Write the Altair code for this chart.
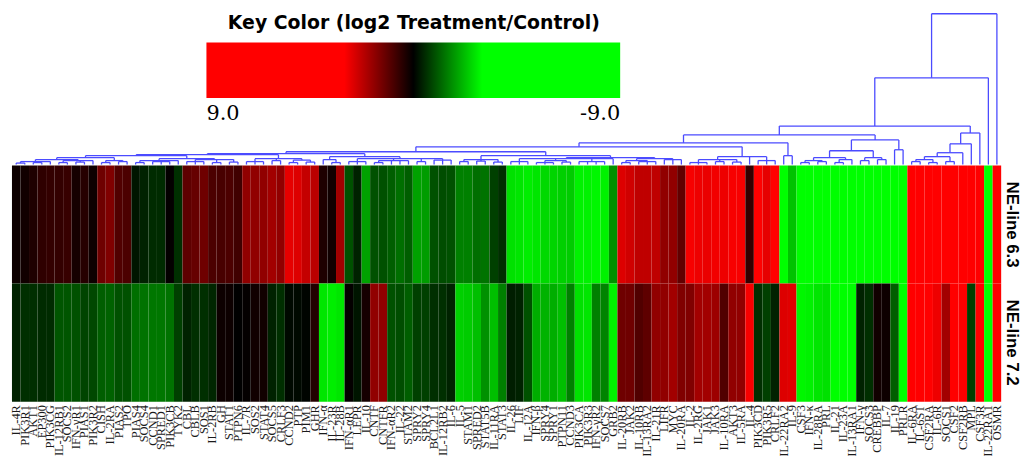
import altair as alt
import pandas as pd

GENES = ["IL-4R", "PIK3R1", "AKT1", "EP300", "PIK3CG", "IL-12RB1", "SOCS2", "IFN-γR1", "PIAS1", "PIK3R2",
         "CISH", "IL-2RA", "PIAS2", "TPO", "PIAS4", "SOCS4", "CCND1", "SPRED1", "PIK3CB", "TYK2",
         "CBL", "CBLB", "SOS1", "IL-2RB", "GH", "STAT1", "PTPN6", "IL-7R", "SOS2", "STAT4",
         "SOCS5", "CRLF3", "CCND2", "PTP", "PIM1", "GHR", "IFN-α", "IL-23R", "IL-28B", "IFN-αR1",
         "LEPR", "IL-10", "CNTF", "CNTFR", "IFN-αR2", "IL-22", "STAM2", "SPRY2", "SPRY4", "BCL2L1",
         "IL-12RB2", "IL-6", "IL-5", "STAM1", "SPRED2", "STAT5B", "IL-11RA", "STAT3", "IL-26", "LIF",
         "IL-12A", "IFN-β", "SPRY4\u200b", "SPRY1", "PTPN11", "CCND3", "PIK3CA", "PIK3R3", "IFN-γR2", "SOCS7",
         "GRB2", "IL-20RB", "JAK2", "IL-10RB", "IL-13RA2", "IL-21R", "LIFR", "MYC", "IL-20RA", "IL-2",
         "IL-2RG", "JAK1", "JAK3", "IL-10RA", "AKT3", "IL-5RA", "IL-4", "PIK3CD", "PIK3R5", "CRLF2",
         "IL-22RA2", "IL-9", "CSF3", "IFN-κ", "IL-28RA", "PRL", "IL-21", "IL-23A", "IL-13RA1", "IFN-γ",
         "SOCS3", "CREBBP", "IL-7", "IL-19", "PRLR", "IL-6RA", "IL-6ST", "CSF2RA", "IL-6R", "SOCS1",
         "CSF2", "CSF2RB", "MPL", "CSF3R", "IL-22RA1", "OSMR"]

ROWS = ["NE-line 6.3", "NE-line 7.2"]

# log2 treatment/control, row "NE-line 6.3"
LINE_63 = [0.15, 0.2, 0.35, 0.55, 0.6, 0.6, 0.65, 0.25, 0.45, 0.15,
           1.3, 1.5, 0.95, 0.9, -0.25, -0.4, -0.5, -0.5, 0.05, -0.55,
           1.1, 1.2, 1.3, 0.9, 0.85, 0.9, 0.75, 1.7, 1.7, 1.7,
           1.9, 1.7, 2.7, 2.6, 2.3, 2.2, 0.35, 0.2, 1.9, -0.95,
           -0.4, -1.9, -0.95, -0.95, -1.1, -1.3, -1.1, -1.9, -1.85, -0.95,
           -0.9, -0.95, -1.5, -1.5, -1.3, -1.35, -0.75, -0.55, -2.65, -2.7,
           -2.8, -2.7, -2.55, -2.5, -2.45, -2.4, -2.85, -2.85, -2.9, -2.85,
           -1.7, 2.6, 2.45, 2.25, 2.25, 2.25, 1.7, 1.7, 1.15, 2.9,
           2.8, 2.75, 2.85, 2.8, 2.9, 2.9, 0.6, 3.0, 2.7, 3.5,
           -3.2, -2.3, -4.5, -5.2, -6.0, -4.8, -5.5, -6.3, -5.1, -4.7,
           -5.8, -6.1, -4.9, -5.4, -6.6, 5.2, 4.6, 5.9, 6.3, 4.8,
           5.5, 6.1, 5.0, 4.4, -6.8, 8.6]

# log2 treatment/control, row "NE-line 7.2"
LINE_72 = [-0.4, -0.55, -0.55, -0.5, -0.5, -1.0, -1.0, -0.95, -0.8, -0.85,
           -1.1, -1.15, -0.95, -0.95, -1.3, -1.35, -1.4, -1.4, -1.35, -0.75,
           -0.4, -0.55, -0.55, -0.45, 0.15, 0.15, 0.0, 0.05, 0.2, 0.2,
           -0.4, -0.55, -0.1, -0.1, -0.05, 0.4, -2.7, -2.8, -2.7, 0.05,
           -0.25, 0.25, 1.7, 1.7, -0.95, -0.9, -1.1, -0.75, -0.75, -0.55,
           -0.55, -0.4, -2.45, -2.4, -2.25, -1.7, -2.25, -1.5, -0.35, -0.4,
           -0.95, -2.05, -2.1, -2.05, -2.25, -1.5, -2.65, -2.7, -1.5, -1.55,
           -2.85, 1.3, 1.3, 0.95, 1.1, 1.7, 1.7, 1.9, 1.5, 1.5,
           1.9, 1.9, 1.85, 0.95, 1.7, 1.7, 2.9, -0.55, -0.75, -0.4,
           2.6, 2.65, -2.9, -2.85, -2.7, -2.65, -3.5, -4.0, -3.5, -0.4,
           -0.55, 0.2, 0.15, -1.1, -3.5, 4.0, 4.5, 3.5, 2.8, 1.9,
           3.5, 3.2, -0.75, 4.0, -5.0, 5.0]

# dendrogram: node -> (merge height in px above the heatmap, children); ints are leaf columns
TREE = {
    "root": (153, ["A", 115]),
    "A": (88, ["B", 114]),
    "B": (39, ["C", "D"]),
    "D": (32, ["E", 113]),
    "E": (21, ["F", 112]),
    "F": (12, ["F1", 111]),
    "F1": (8, ["F2", (3, [109, 110])]),
    "F2": (5, [(3, [105, 106]), (2, [107, 108])]),
    "C": (30, ["G", "H"]),
    "H": (25, ["J", "I"]),
    "I": (15, [103, 104]),
    "J": (14, ["K", "L"]),
    "L": (7, [(4, [99, 100]), (5, [101, 102])]),
    "K": (7, [(4, [(2, [92, 93]), (3, [94, 95])]), (5, [(2, [96, 97]), 98])]),
    "G": (22, ["M", "N"]),
    "N": (9, [90, 91]),
    "M": (18, ["M1", "P11"]),
    "P11": (8, [(5, [(2, [79, 80, 81]), (3, [82, 83]), (2.5, [84, 85])]), 86, (4, [87, 88, 89])]),
    "M1": (13, ["M1a", "M1b"]),
    "M1b": (9, ["P8", "Q2"]),
    "Q2": (7, ["P9", "P10"]),
    "P8": (5, [(3, [52, 53]), (3.5, [54, 55]), (2.5, [56, 57])]),
    "P9": (6, [(3, [58, 59, 60]), (4, [(2, [61, 62, 63]), (2.5, [64, 65])]), (3, [66, 67, 68, 69]), 70]),
    "P10": (6, [(4, [(2, [71, 72]), (3, [73, 74, 75])]), (5, [76, 77, 78])]),
    "M1a": (11, ["X", "Y"]),
    "Y": (8, ["P6", "P7"]),
    "P6": (5, [36, (2, [37, 38])]),
    "P7": (6, [(3, [39, 40, 41]), (4, [(2, [42, 43]), 44, 45, 46]), (3, [47, 48]), (4.5, [49, 50, 51])]),
    "X": (10, ["X1", "P5"]),
    "X1": (9, ["P12", "P34"]),
    "P12": (7, ["P1", "P2"]),
    "P1": (5, [(3, [(1.5, [0, 1]), (2, [2, 3]), 4]), (4, [(2, [5, 6]), (2.5, [7, 8]), 9])]),
    "P2": (4, [(2, [10, 11]), (3, [12, 13])]),
    "P34": (6, ["P3", "P4"]),
    "P3": (4, [(2, [14, 15]), (3, [16, 17, 18]), 19]),
    "P4": (5, [(3, [20, 21, 22]), (2, [23, 24]), (2.5, [25, 26])]),
    "P5": (6, [(3, [27, 28, 29]), (4, [30, 31]), (4.5, [(2, [32, 33]), (2.5, [34, 35])])]),
}

N = len(GENES)


def walk(node, segs):
    if isinstance(node, int):
        return node + 0.5, 0.0
    if isinstance(node, str):
        node = TREE[node]
    h, kids = node
    res = [walk(k, segs) for k in kids]
    for p, ch in res:
        segs.append({"x": p, "x2": p, "y": ch, "y2": h})
    segs.append({"x": res[0][0], "x2": res[-1][0], "y": h, "y2": h})
    return (res[0][0] + res[-1][0]) / 2.0, h


segs = []
walk("root", segs)
dend_df = pd.DataFrame(segs)

heat_rows = []
for i, g in enumerate(GENES):
    heat_rows.append({"gene": g, "row": ROWS[0], "v": LINE_63[i]})
    heat_rows.append({"gene": g, "row": ROWS[1], "v": LINE_72[i]})
heat_df = pd.DataFrame(heat_rows)

W = 997

dendro = alt.Chart(dend_df).mark_rule(color="#4b4bff", strokeWidth=1.3).encode(
    x=alt.X("x:Q", scale=alt.Scale(domain=[0, N], nice=False, zero=False), axis=None),
    x2="x2:Q",
    y=alt.Y("y:Q", scale=alt.Scale(domain=[0, 153], nice=False), axis=None),
    y2="y2:Q",
).properties(width=W, height=152)

heat = alt.Chart(heat_df).transform_calculate(
    neg="-datum.v"
).mark_rect().encode(
    x=alt.X("gene:N", sort=GENES,
            scale=alt.Scale(paddingInner=0, paddingOuter=0),
            axis=alt.Axis(title=None, labelAngle=270, labelFont="Liberation Serif",
                          labelFontSize=12.5, labelColor="#1a1a1a", ticks=False, domain=False,
                          labelPadding=3, labelOverlap=False, labelBound=False, labelFlush=False)),
    y=alt.Y("row:N", sort=ROWS,
            scale=alt.Scale(paddingInner=0, paddingOuter=0),
            axis=alt.Axis(title=None, orient="right", labelAngle=90, labelFont="Liberation Sans",
                          labelFontWeight="bold", labelFontSize=17, labelColor="black",
                          ticks=False, domain=False, labelPadding=1,
                          labelAlign="center", labelBaseline="bottom")),
    color=alt.Color("neg:Q",
                    scale=alt.Scale(domain=[-9, -3, 0, 3, 9],
                                    range=["#ff0000", "#ff0000", "#000000", "#00ff00", "#00ff00"],
                                    interpolate="rgb"),
                    legend=alt.Legend(orient="none", legendX=196, legendY=0, direction="horizontal",
                                      title="Key Color (log2 Treatment/Control)",
                                      titleFont="DejaVu Sans", titleFontWeight="bold",
                                      titleFontSize=19, titleColor="black", titleAnchor="middle",
                                      titlePadding=10, titleLimit=1000,
                                      gradientLength=417, gradientThickness=56,
                                      gradientStrokeWidth=0,
                                      values=[-9, 9],
                                      labelExpr="datum.value < 0 ? '9.0' : '-9.0'",
                                      labelFont="DejaVu Serif", labelFontSize=21,
                                      labelColor="black", labelOffset=5)),
).properties(width=W, height=238)

chart = alt.vconcat(dendro, heat, spacing=0).resolve_scale(
    x="independent", y="independent"
).configure_view(stroke=None).properties(
    padding={"left": 1, "top": 3, "right": 2, "bottom": 0},
    background="white",
)

chart.save("out.html", embed_options={"renderer": "svg", "actions": False})
